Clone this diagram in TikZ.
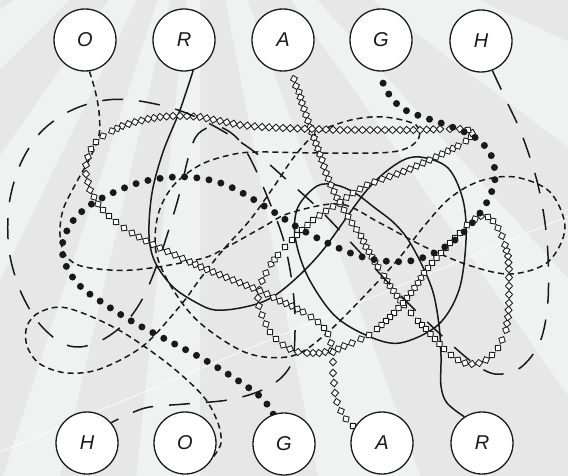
\documentclass[tikz,border=0pt]{standalone}
\usepackage{fontspec}
\setsansfont{Liberation Sans}
\usetikzlibrary{calc}
\pgfdeclarelayer{back}
\pgfdeclarelayer{mid}
\pgfsetlayers{back,mid,main}
\definecolor{bgdark}{RGB}{231,231,231}
\definecolor{bglight}{RGB}{240,241,241}
\definecolor{ink}{RGB}{25,25,25}
\tikzset{
  lab/.style={circle, draw=ink, fill=white, line width=1.3pt, minimum size=62pt, inner sep=0pt,
    text=ink, font=\sffamily\itshape\fontsize{20}{24}\selectfont},
  ostrand/.style={draw=ink, line width=1.5pt, dash pattern=on 6pt off 4pt},
  rstrand/.style={draw=ink, line width=1.5pt},
  dmd/.style={draw=ink, fill=white, line width=0.85pt},
  gstrand/.style={draw=ink, line width=7pt, line cap=round, dash pattern=on 0pt off 12.3pt, dash phase=0.5pt},
  hstrand/.style={draw=ink, line width=1.5pt, dash pattern=on 21pt off 16pt},
  sm/.style={smooth, tension=0.55}
}
\begin{document}
\begin{tikzpicture}[x=1pt,y=-1pt]
\useasboundingbox (0,0) rectangle (568,476);
% nodes
\node[lab] (tO) at (85,40) {O};
\node[lab] (tR) at (184,40) {R};
\node[lab] (tA) at (283,40) {A};
\node[lab] (tG) at (381,40) {G};
\node[lab] (tH) at (481,41) {H};
\node[lab] (bH) at (87,443) {H};
\node[lab] (bO) at (185,443) {O};
\node[lab] (bG) at (284,444) {G};
\node[lab] (bA) at (382,443) {A};
\node[lab] (bR) at (482,443) {R};
% background
\begin{pgfonlayer}{back}
\fill[bgdark] (0,0) rectangle (568,476);
\begin{scope}
\clip (0,0) rectangle (568,476);
\foreach \a/\b in {25/37, 48/55, 70/79, 90/96, 103/108, 116/125, 135/145}
  \fill[bglight] (200,-130) -- +(\a:1300) -- +(\b:1300) -- cycle;
\draw[white, line width=1pt, opacity=0.7] (0,452) -- (568,216);
\end{scope}
\end{pgfonlayer}
\begin{pgfonlayer}{mid}
% O strand (dashed)
\draw[ostrand] plot[sm] coordinates {(tO.-82) (95,90) (99,112) (99,135) (90,158) (75,185) (63,210) (60,235) (66,256) (85,267) (133,270) (200,259) (227,247) (263,227) (290,213) (340,204) (380,223) (425,247) (471,266) (511,274) (548,262) (565,228) (550,192) (515,177) (480,181) (450,198) (425,225) (400,257) (370,290) (327,333) (292,356) (247,353) (200,323) (172,288) (156,252) (158,215) (173,186) (200,165) (230,155) (257,152) (320,153) (392,152) (417,141) (416,125) (384,117) (351,120) (317,133) (294,157) (275,185) (250,220) (223,250) (200,279) (180,306) (143,346) (100,369) (67,373) (40,364) (27,346) (27,326) (40,312) (67,308) (117,329) (167,363) (203,396) (218,423) (221,443) (bO.-25)};
% R strand (solid)
\draw[rstrand] plot[sm] coordinates {(tR.-73) (180,110) (163,152) (152,193) (149,235) (155,262) (173,287) (197,303) (215,310) (240,308) (267,300) (292,282) (323,250) (367,190) (398,163) (420,157) (448,168) (463,200) (466,240) (459,290) (438,325) (400,343) (368,336) (334,315) (307,275) (295,236) (298,207) (317,186) (336,185) (355,193) (375,208) (393,222) (407,238) (421,263) (433,292) (439,325) (441,356) (441,386) (447,403) (bR.124)};
% A strand (diamond chain) from tA to bA
\foreach \x/\y [remember=\x as \lx (initially 292), remember=\y as \ly (initially 72)] in
 {296/86, 299/92, 302/103, 306/115, 310/127, 314/138, 318/149, 322/160, 326/173, 331/185, 337/198, 344/210, 352/223, 361/236, 366/247, 372/257, 378/267, 384/276, 390/286, 397/296, 404/305, 411/313, 418/321, 426/329, 435/339, 444/349, 451/355, 458/360, 465/363, 472/364, 479/363, 486/360, 492/355, 498/348, 502/340, 506/330, 508/317, 509/303, 509/286, 509/269, 508/256, 505/245, 502/236, 498/228, 493/221, 488/217, 481/216, 475/219, 467/225, 460/233, 450/243, 441/253, 432/263, 424/273, 418/283, 411/293, 403/303, 394/313, 386/321, 377/329, 369/335, 361/339, 352/343, 344/346, 338/349, 331/351, 319/353, 307/353, 298/352, 290/349, 283/345, 276/339, 270/332, 266/324, 262/315, 259/306, 258/298, 259/290, 262/281, 266/273, 271/264, 278/255, 285/247, 292/240, 302/230, 313/220, 326/211, 340/202, 353/193, 367/185, 382/179, 397/174, 410/169, 423/163, 436/157, 448/151, 458/146, 466/141, 471/137, 472/133, 468/130, 460/129, 450/129, 440/129, 420/130, 400/130, 370/130, 340/130, 312/129, 283/128, 262/127, 240/125, 220/121, 200/117, 187/116, 173/116, 160/117, 148/119, 135/122, 122/126, 112/131, 103/136, 96/142, 91/149, 88/157, 86/165, 86/174, 88/182, 90/190, 94/197, 98/204, 103/210, 109/216, 116/222, 124/228, 132/233, 146/241, 160/248, 175/255, 190/262, 201/267, 213/272, 233/280, 253/288, 267/294, 280/301, 292/306, 303/312, 311/317, 318/322, 324/328, 328/334, 331/343, 333/352, 333/362, 333/373, 334/383, 335/393, 337/402, 341/411, 346/419, 353/426} {
  \pgfmathsetmacro\len{veclen(\x-\lx,\y-\ly)}
  \pgfmathsetmacro\ang{atan2(\ly-\y,\x-\lx)}
  \pgfmathtruncatemacro\cnt{max(1,round(\len/7.4))}
  \foreach \k in {1,...,\cnt}{
    \draw[dmd, shift={($(\lx,\ly)!{\k/\cnt}!(\x,\y)$)}, rotate=\ang]
      (-3.8pt,0pt) -- (0pt,3.6pt) -- (3.8pt,0pt) -- (0pt,-3.6pt) -- cycle;
  }
}
% G strand (big dots)
\draw[gstrand] plot[sm] coordinates {(tG.-85) (383,83) (393,100) (407,111) (426,118) (452,127) (476,138) (491,155) (495,179) (487,202) (473,222) (455,240) (432,254) (410,261) (384,261) (359,256) (334,246) (302,230) (269,209) (237,190) (214,181) (188,177) (163,178) (138,183) (108,195) (86,208) (70,225) (62,247) (67,268) (81,287) (103,303) (133,322) (167,340) (210,363) (256,393) (272,411) (bG.110)};
% H strand (long dashes)
\draw[hstrand] plot[sm] coordinates {(tH.-69) (507,102) (522,135) (538,185) (547,240) (548,300) (540,342) (520,368) (495,374) (472,362) (440,334) (400,295) (369,262) (323,213) (288,181) (252,150) (212,125) (175,109) (132,100) (100,101) (68,112) (40,133) (20,165) (9,205) (9,250) (20,290) (38,322) (60,342) (80,347) (104,339) (127,321) (144,296) (158,262) (170,226) (180,192) (189,155) (198,134) (216,126) (236,137) (251,160) (267,196) (283,238) (292,282) (295,320) (293,358) (282,377) (260,391) (228,400) (185,404) (145,408) (bH.40)};
\end{pgfonlayer}
\end{tikzpicture}
\end{document}
